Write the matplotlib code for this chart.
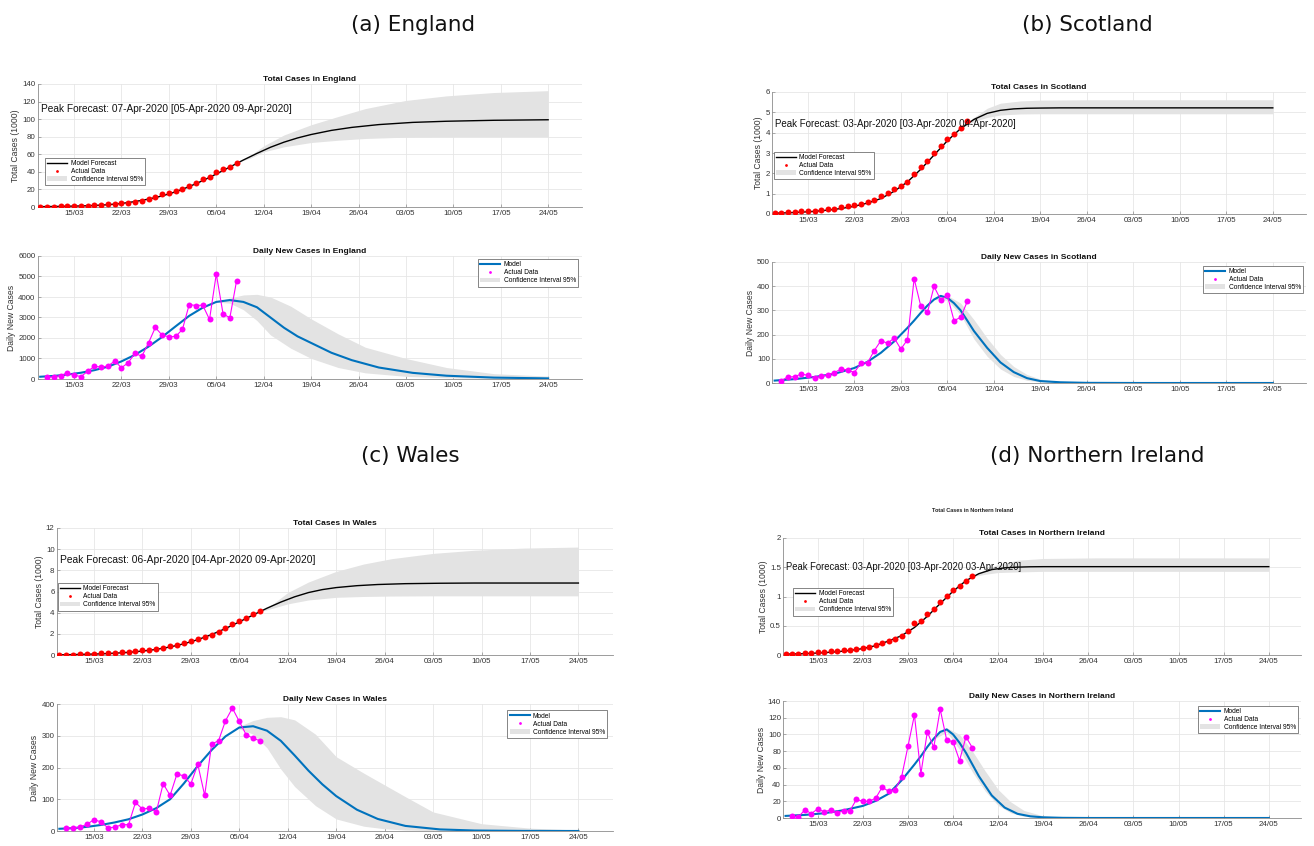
import numpy as np
import matplotlib
matplotlib.use("Agg")
import matplotlib.pyplot as plt
import matplotlib.dates as mdates
from matplotlib.lines import Line2D
from matplotlib.patches import Patch
from matplotlib.ticker import FuncFormatter

plt.rcParams["font.family"] = ["Liberation Sans", "DejaVu Sans"]

# ---------------------------------------------------------------- data
START = np.datetime64("2020-03-10")
TICK_DATES = np.arange(np.datetime64("2020-03-15"), np.datetime64("2020-05-25"), 7)

OBS_TOTAL_DAYS = list(range(0, 30))   # 10/03 .. 08/04
OBS_DAILY_DAYS = list(range(1, 30))   # 11/03 .. 08/04
MODEL_DAYS = [0, 2, 4, 6, 8, 10, 12, 14, 16, 18, 20, 22, 24, 26, 28, 30,
              32, 34, 36, 38, 40, 43, 46, 50, 55, 60, 67, 75]
PEAKED_DAYS = [0, 3, 6, 9, 12, 14, 16, 18, 20, 21, 22, 23, 24, 25, 26, 27,
               28, 29, 30, 32, 34, 36, 38, 40, 43, 47, 55, 75]

# England
eng_total = [0.3, 0.35, 0.45, 0.6, 0.8, 1.0, 1.2, 1.5, 2.0, 2.5, 3.0, 3.6,
             4.2, 4.9, 5.7, 6.8, 8.7, 11.4, 14.5, 16.4, 18.3, 21.0, 24.3,
             27.8, 32.0, 34.6, 39.6, 43.0, 46.0, 50.6]
eng_daily = [81, 114, 162, 292, 195, 114, 373, 616, 584, 632, 876, 551, 795,
             1265, 1103, 1768, 2513, 2140, 2059, 2076, 2416, 3632, 3584, 3600,
             2903, 5124, 3178, 2984, 4800]
eng_model_total = [0.4, 0.6, 0.85, 1.2, 1.75, 2.6, 4.0, 6.2, 9.0, 12.6, 17.3,
                   23.2, 30.0, 37.5, 45.5, 53.5, 61.0, 68.0, 73.8, 78.6, 82.5,
                   87.2, 90.6, 93.8, 96.3, 97.6, 98.7, 99.3]
eng_model_daily = [110, 150, 215, 305, 430, 600, 860, 1180, 1580, 2050, 2570,
                   3080, 3480, 3760, 3850, 3760, 3500, 3000, 2500, 2080, 1760,
                   1280, 920, 560, 300, 160, 68, 30]
eng_ci_total_days = [29, 31, 33, 36, 40, 44, 48, 54, 60, 67, 75]
eng_ci_total_hi = [50.6, 58.5, 69.6, 82.0, 93.6, 103.0, 112.0, 121.3, 126.5, 130.3, 132.4]
eng_ci_total_lo = [50.6, 55.5, 62.8, 68.5, 73.4, 76.0, 78.0, 79.5, 79.9, 80.0, 80.0]
eng_ci_daily_days = [26, 28, 30, 32, 34, 37, 40, 44, 48, 54, 60, 67, 75]
eng_ci_daily_hi = [3770, 3950, 4100, 4130, 4000, 3550, 2935, 2200, 1550, 1000, 560, 260, 140]
eng_ci_daily_lo = [3750, 3700, 3380, 2850, 2150, 1500, 1005, 560, 300, 130, 60, 25, 12]

# Scotland
sco_total = [0.05, 0.07, 0.08, 0.10, 0.13, 0.15, 0.16, 0.20, 0.23, 0.26, 0.33,
             0.38, 0.44, 0.50, 0.59, 0.70, 0.89, 1.03, 1.23, 1.39, 1.56, 1.98,
             2.30, 2.59, 2.98, 3.36, 3.70, 3.95, 4.23, 4.57]
sco_daily = [10, 25, 26, 37, 32, 21, 28, 34, 43, 58, 54, 43, 84, 84, 134, 175,
             164, 186, 140, 179, 431, 318, 292, 399, 344, 362, 258, 271, 337]
sco_model_total = [0.04, 0.06, 0.09, 0.13, 0.19, 0.27, 0.38, 0.54, 0.76, 1.12,
                   1.58, 2.2, 2.9, 3.6, 4.2, 4.65, 4.95, 5.1, 5.17, 5.2, 5.21,
                   5.22, 5.22, 5.22, 5.22, 5.22, 5.22, 5.22]
sco_model_daily = [10, 16, 25, 38, 62, 88, 125, 172, 228, 258, 290, 320, 345,
                   360, 352, 330, 300, 258, 215, 145, 85, 45, 20, 8, 3, 0.6, 0, 0]
sco_ci_total_days = [28, 30, 32, 34, 37, 40, 48, 60, 75]
sco_ci_total_hi = [4.2, 4.75, 5.2, 5.45, 5.56, 5.6, 5.62, 5.62, 5.62]
sco_ci_total_lo = [4.2, 4.55, 4.75, 4.87, 4.92, 4.93, 4.93, 4.93, 4.93]
sco_ci_daily_days = [24, 26, 28, 30, 32, 34, 36, 38, 40, 43, 46]
sco_ci_daily_hi = [352, 362, 330, 262, 185, 118, 68, 35, 16, 5, 1.5]
sco_ci_daily_lo = [345, 342, 282, 182, 110, 58, 27, 11, 4, 1, 0]

# Wales
wal_total = [0.0, 0.03, 0.03, 0.06, 0.09, 0.13, 0.16, 0.19, 0.22, 0.25, 0.32,
             0.38, 0.44, 0.50, 0.57, 0.70, 0.82, 0.98, 1.12, 1.30, 1.52, 1.67,
             1.89, 2.15, 2.53, 2.94, 3.25, 3.54, 3.85, 4.14]
wal_daily = [9.5, 9.5, 12.7, 21, 36, 28.5, 10.6, 11.6, 20, 20, 90, 69, 72, 60,
             149, 112, 180, 173, 148, 210, 112, 274, 284, 347, 387, 345, 303, 292, 284]
wal_model_total = [0.02, 0.04, 0.07, 0.11, 0.17, 0.25, 0.37, 0.53, 0.76, 1.06,
                   1.45, 1.93, 2.5, 3.13, 3.78, 4.42, 5.0, 5.5, 5.9, 6.18, 6.37,
                   6.55, 6.66, 6.74, 6.78, 6.8, 6.8, 6.8]
wal_model_daily = [7, 9, 13, 19, 27, 37, 52, 72, 100, 150, 205, 255, 298, 326,
                   330, 316, 284, 238, 190, 147, 110, 67, 38, 16, 5, 1.5, 0.3, 0]
wal_ci_total_days = [29, 31, 33, 36, 40, 44, 48, 54, 60, 67, 75]
wal_ci_total_hi = [4.1, 4.9, 5.9, 6.9, 7.9, 8.6, 9.1, 9.6, 9.9, 10.1, 10.2]
wal_ci_total_lo = [4.1, 4.45, 4.83, 5.2, 5.45, 5.53, 5.57, 5.59, 5.59, 5.59, 5.59]
wal_ci_daily_days = [26, 28, 30, 32, 34, 37, 40, 44, 47, 50, 54, 61, 68, 75]
wal_ci_daily_hi = [330, 348, 358, 360, 350, 305, 234, 182, 145, 108, 60, 23, 9, 3]
wal_ci_daily_lo = [322, 305, 262, 195, 140, 80, 38, 15, 7, 3, 1, 0, 0, 0]

# Northern Ireland
ni_total = [0.017, 0.017, 0.023, 0.029, 0.034, 0.046, 0.051, 0.063, 0.074,
            0.080, 0.091, 0.109, 0.126, 0.143, 0.166, 0.211, 0.246, 0.280,
            0.326, 0.411, 0.543, 0.589, 0.697, 0.783, 0.903, 1.006, 1.103,
            1.171, 1.269, 1.343]
ni_daily = [2.0, 1.2, 9.9, 5.2, 11.1, 7.2, 9.9, 6.0, 8.8, 8.8, 22.3, 19.9,
            19.9, 23.9, 37.0, 31.8, 33.8, 49.0, 85.9, 123.3, 52.9, 103.0, 84.5,
            130.1, 93.5, 91.1, 68.8, 97.1, 83.9]
ni_model_total = [0.015, 0.02, 0.028, 0.04, 0.055, 0.078, 0.11, 0.16, 0.24,
                  0.33, 0.47, 0.66, 0.88, 1.09, 1.27, 1.39, 1.46, 1.49, 1.502,
                  1.508, 1.51, 1.51, 1.51, 1.51, 1.51, 1.51, 1.51, 1.51]
ni_model_daily = [2.5, 3.7, 5.7, 9.3, 14.5, 20.5, 29, 45, 64, 74, 85, 95, 103,
                  106, 100, 90, 78, 64, 50, 27, 12.5, 5, 2, 0.8, 0.2, 0, 0, 0]
ni_ci_total_days = [29, 31, 33, 36, 40, 48, 60, 75]
ni_ci_total_hi = [1.34, 1.46, 1.55, 1.62, 1.65, 1.66, 1.66, 1.66]
ni_ci_total_lo = [1.34, 1.38, 1.41, 1.42, 1.43, 1.43, 1.43, 1.43]
ni_ci_daily_days = [23, 25, 27, 29, 31, 33, 35, 37, 40, 43, 46]
ni_ci_daily_hi = [96, 108, 100, 80, 56, 34, 19, 9, 2.5, 0.8, 0.2]
ni_ci_daily_lo = [94, 103, 82, 55, 32, 15, 6, 2, 0.4, 0, 0]

PEAK_TEXT = {
    "England": "Peak Forecast: 07-Apr-2020 [05-Apr-2020 09-Apr-2020]",
    "Scotland": "Peak Forecast: 03-Apr-2020 [03-Apr-2020 04-Apr-2020]",
    "Wales": "Peak Forecast: 06-Apr-2020 [04-Apr-2020 09-Apr-2020]",
    "Northern Ireland": "Peak Forecast: 03-Apr-2020 [03-Apr-2020 03-Apr-2020]",
}

# ---------------------------------------------------------------- style
W, H = 1314, 846
CI_GREY = "#e3e3e3"
BLUE = "#0072BD"
MAGENTA = "#FF00FF"
T0 = mdates.date2num(START)


def dates(days):
    return START + np.asarray(days).astype("timedelta64[D]")


def make_axes(fig, x0, x1, y0, y1):
    return fig.add_axes([x0 / W, 1 - y1 / H, (x1 - x0) / W, (y1 - y0) / H])


def style(ax, yticks, ylabel, title):
    ax.set_xlim(T0 - 0.4, T0 + 80)
    ax.set_ylim(yticks[0], yticks[-1])
    ax.set_yticks(yticks)
    ax.yaxis.set_major_formatter(FuncFormatter(lambda v, p: f"{v:g}"))
    ax.set_xticks(mdates.date2num(TICK_DATES))
    ax.xaxis.set_major_formatter(mdates.DateFormatter("%d/%m"))
    ax.grid(True, color="#e6e6e6", lw=0.6)
    ax.set_axisbelow(True)
    for s in ("top", "right"):
        ax.spines[s].set_visible(False)
    for s in ("left", "bottom"):
        ax.spines[s].set_color("#8c8c8c")
        ax.spines[s].set_linewidth(0.6)
    ax.tick_params(direction="in", length=2.5, width=0.5, colors="#8c8c8c",
                   labelcolor="#333333", labelsize=5.7, pad=2)
    ax.tick_params(axis="y", pad=1.5)
    ax.set_title(title, fontsize=6, fontweight="bold", pad=2.5, color="#111111")
    ax.set_ylabel(ylabel, fontsize=6.2, labelpad=1.5, color="#333333")


def legend(ax, handles, labels, loc, anchor):
    leg = ax.legend(handles, labels, loc=loc, bbox_to_anchor=anchor,
                    fontsize=4.8, frameon=True, fancybox=False,
                    edgecolor="#555555", framealpha=1, borderpad=0.35,
                    labelspacing=0.15, handlelength=3.0, handletextpad=0.5,
                    borderaxespad=0)
    leg.get_frame().set_linewidth(0.5)


def total_panel(ax, name, obs, model, ci_days, ci_lo, ci_hi, yticks, text_y,
                text_size, leg_anchor):
    ax.fill_between(dates(ci_days), ci_lo, ci_hi, color=CI_GREY, lw=0, zorder=1)
    ax.plot(dates(MODEL_DAYS), model, color="black", lw=1.0, zorder=2)
    ax.plot(dates(OBS_TOTAL_DAYS), obs, "o", color="red", ms=4.3, mew=0, zorder=3)
    ax.text(T0 + 0.1, text_y, PEAK_TEXT[name], fontsize=text_size, va="center",
            ha="left", color="#111111", zorder=5)
    style(ax, yticks, "Total Cases (1000)", f"Total Cases in {name}")
    handles = [Line2D([], [], color="black", lw=1.0),
               Line2D([], [], color="red", marker="o", ls="none", ms=2, mew=0),
               Patch(facecolor=CI_GREY, edgecolor="none")]
    legend(ax, handles, ["Model Forecast", "Actual Data", "Confidence Interval 95%"],
           "upper left", leg_anchor)


def daily_panel(ax, name, obs, model_days, model, ci_days, ci_lo, ci_hi, yticks, leg_anchor):
    ax.fill_between(dates(ci_days), ci_lo, ci_hi, color=CI_GREY, lw=0, zorder=1)
    ax.plot(dates(model_days), model, color=BLUE, lw=1.5, zorder=2)
    ax.plot(dates(OBS_DAILY_DAYS), obs, "-o", color=MAGENTA, lw=0.8, ms=4.3,
            mew=0, zorder=3)
    style(ax, yticks, "Daily New Cases", f"Daily New Cases in {name}")
    handles = [Line2D([], [], color=BLUE, lw=1.5),
               Line2D([], [], color=MAGENTA, marker="o", ls="none", ms=2, mew=0),
               Patch(facecolor=CI_GREY, edgecolor="none")]
    legend(ax, handles, ["Model", "Actual Data", "Confidence Interval 95%"],
           "upper right", leg_anchor)


fig = plt.figure(figsize=(W / 100, H / 100), dpi=100)

# England
ax = make_axes(fig, 37.5, 582, 84, 207)
total_panel(ax, "England", eng_total, eng_model_total, eng_ci_total_days,
            eng_ci_total_lo, eng_ci_total_hi, list(range(0, 141, 20)), 111, 7.3,
            (0.014, 0.40))
ax = make_axes(fig, 37.5, 582, 256, 379)
daily_panel(ax, "England", eng_daily, MODEL_DAYS, eng_model_daily, eng_ci_daily_days,
            eng_ci_daily_lo, eng_ci_daily_hi, list(range(0, 6001, 1000)), (0.993, 0.976))

# Scotland
ax = make_axes(fig, 772, 1306, 92, 214)
total_panel(ax, "Scotland", sco_total, sco_model_total, sco_ci_total_days,
            sco_ci_total_lo, sco_ci_total_hi, list(range(0, 7)), 4.43, 7.05,
            (0.003, 0.51))
ax = make_axes(fig, 772, 1306, 262, 383)
daily_panel(ax, "Scotland", sco_daily, PEAKED_DAYS, sco_model_daily, sco_ci_daily_days,
            sco_ci_daily_lo, sco_ci_daily_hi, list(range(0, 501, 100)), (0.995, 0.97))

# Wales
ax = make_axes(fig, 56.6, 613, 528, 655)
total_panel(ax, "Wales", wal_total, wal_model_total, wal_ci_total_days,
            wal_ci_total_lo, wal_ci_total_hi, list(range(0, 13, 2)), 8.94, 7.35,
            (0.002, 0.567))
ax = make_axes(fig, 56.6, 613, 704, 831)
daily_panel(ax, "Wales", wal_daily, MODEL_DAYS, wal_model_daily, wal_ci_daily_days,
            wal_ci_daily_lo, wal_ci_daily_hi, list(range(0, 401, 100)), (0.99, 0.95))

# Northern Ireland
ax = make_axes(fig, 783, 1301, 538, 655)
total_panel(ax, "Northern Ireland", ni_total, ni_model_total, ni_ci_total_days,
            ni_ci_total_lo, ni_ci_total_hi, [0, 0.5, 1, 1.5, 2], 1.497, 6.85,
            (0.019, 0.573))
ax = make_axes(fig, 783, 1301, 701, 818)
daily_panel(ax, "Northern Ireland", ni_daily, PEAKED_DAYS, ni_model_daily, ni_ci_daily_days,
            ni_ci_daily_lo, ni_ci_daily_hi, list(range(0, 141, 20)), (0.995, 0.96))

# small heading left over above the Northern Ireland panel
fig.text(973 / W, 1 - 510 / H, "Total Cases in Northern Ireland", fontsize=4,
         fontweight="bold", ha="center", va="center", color="#222222")

# sub-figure captions
for x, y, label in [(413, 25, "(a) England"), (1087, 25, "(b) Scotland"),
                    (410, 456, "(c) Wales"), (1097, 456, "(d) Northern Ireland")]:
    fig.text(x / W, 1 - y / H, label, fontsize=15.5, ha="center", va="center",
             family="DejaVu Sans", color="#111111")

fig.savefig("out.png", dpi=100, facecolor="white")
